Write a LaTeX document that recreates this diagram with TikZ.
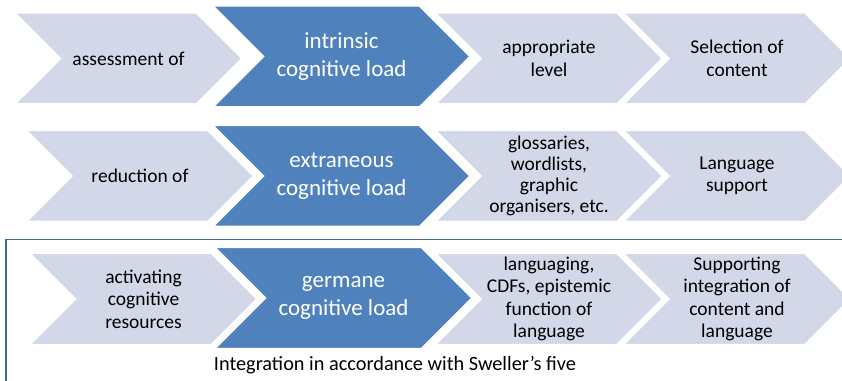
\documentclass[tikz,border=0pt]{standalone}
\usepackage{fontspec}
\setmainfont{Carlito}
\usetikzlibrary{shapes.symbols}

\definecolor{stepgrey}{RGB}{211,216,232}
\definecolor{loadblue}{RGB}{79,129,189}
\definecolor{framecol}{RGB}{66,104,150}

\tikzset{
	chev/.style={shape=signal, signal from=west, signal to=east, signal pointer angle=90,
		draw=white, line width=1.5pt, inner sep=0pt, align=center,
		font=\fontsize{19.5}{22.5}\selectfont},
	lightstep/.style={chev, fill=stepgrey, text=black, minimum width=227pt, minimum height=91pt},
	loadstep/.style={chev, fill=loadblue, text=white, minimum width=257pt, minimum height=101pt,
		font=\fontsize{23}{28}\selectfont},
}

\begin{document}
\begin{tikzpicture}[x=1pt,y=1pt]
	\useasboundingbox (0,0) rectangle (842,380);
	% frame of the third row
	\coordinate (FR) at (845,140.5);
	\coordinate (FL) at (6,140.5);
	\coordinate (FB) at (6,-3);
	\draw[framecol, line width=1.6pt] (FR) -- (FL) -- (FB);
	% intrinsic
	\node[lightstep] (A1) at (128.5,321.5) {assessment of};
	\node[loadstep] (A2) at (341.5,323.5) {intrinsic\\cognitive load};
	\node[lightstep] (A3) at (549,321.5) {appropriate\\level};
	\node[lightstep] (A4) at (737,321.5) {Selection of\\content};
	% extraneous
	\node[lightstep] (B1) at (140,204) {reduction of};
	\node[loadstep] (B2) at (341.5,204) {extraneous\\cognitive load};
	\node[lightstep, font=\fontsize{19.5}{21}\selectfont] (B3) at (549,204) {glossaries,\\wordlists,\\graphic\\organisers, etc.};
	\node[lightstep] (B4) at (737,204) {Language\\support};
	% germane
	\node[lightstep] (C1) at (143.5,81) {activating\\cognitive\\resources};
	\node[loadstep] (C2) at (343.5,82) {germane\\cognitive load};
	\node[lightstep] (C3) at (549,81) {languaging,\\CDFs, epistemic\\function of\\language};
	\node[lightstep] (C4) at (737,81) {Supporting\\integration of\\content and\\language};
	\node[font=\fontsize{20.3}{23}\selectfont, inner sep=0pt] (note) at (395,15) {Integration in accordance with Sweller’s five};
\end{tikzpicture}
\end{document}
